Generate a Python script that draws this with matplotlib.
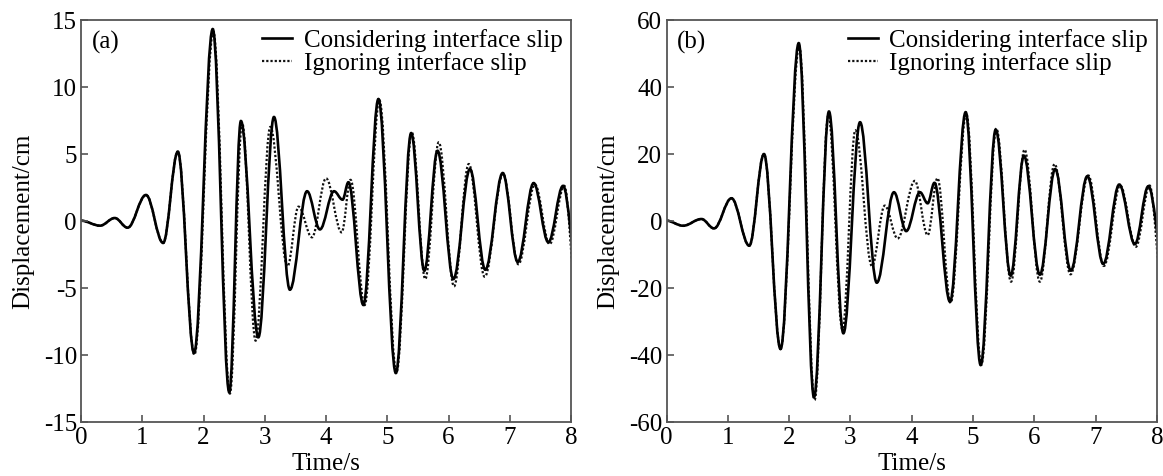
import matplotlib
matplotlib.use("Agg")
import matplotlib.pyplot as plt
from matplotlib.path import Path
from matplotlib.patches import PathPatch
from matplotlib.lines import Line2D

plt.rcParams['font.family'] = ['Liberation Serif', 'DejaVu Serif']
plt.rcParams['axes.unicode_minus'] = False

# ---- data: extrema (time s, displacement cm) ----
a_solid_t = [0, 0.31, 0.55, 0.76, 1.06, 1.34, 1.58, 1.845, 2.15, 2.42, 2.61, 2.895, 3.15, 3.41,
             3.69, 3.90, 4.13, 4.27, 4.365, 4.61, 4.855, 5.14, 5.39, 5.605, 5.82, 6.08, 6.35,
             6.6, 6.885, 7.13, 7.39, 7.63, 7.87, 8.1]
a_solid_v = [0, -0.37, 0.2, -0.52, 1.92, -1.66, 5.15, -9.87, 14.3, -12.8, 7.44, -8.7, 7.74, -5.15,
             2.2, -0.65, 2.2, 1.57, 2.87, -6.29, 9.08, -11.37, 6.54, -3.73, 5.22, -4.35, 3.86,
             -3.66, 3.56, -3.08, 2.81, -1.61, 2.6, -3.5]

a_dot_t = [0, 0.31, 0.55, 0.76, 1.06, 1.34, 1.58, 1.85, 2.16, 2.43, 2.63, 2.85, 3.09, 3.37,
           3.55, 3.77, 4.0, 4.255, 4.4, 4.63, 4.87, 5.15, 5.40, 5.62, 5.84, 6.09, 6.33,
           6.59, 6.89, 7.14, 7.41, 7.65, 7.89, 8.08]
a_dot_v = [0, -0.37, 0.2, -0.52, 1.92, -1.66, 5.15, -10.0, 14.1, -12.9, 7.3, -8.95, 7.0, -3.4,
           1.05, -1.24, 3.16, -0.87, 3.05, -6.3, 9.0, -11.3, 6.6, -4.35, 5.85, -4.9, 4.23,
           -4.18, 3.5, -3.25, 2.7, -1.75, 2.6, -5.0]

b_solid_t = [0, 0.27, 0.57, 0.775, 1.06, 1.35, 1.59, 1.86, 2.157, 2.406, 2.65, 2.885, 3.157, 3.43,
             3.71, 3.91, 4.135, 4.26, 4.37, 4.625, 4.88, 5.125, 5.37, 5.615, 5.83, 6.09, 6.34,
             6.595, 6.865, 7.125, 7.385, 7.64, 7.86, 8.1]
b_solid_v = [0, -1.5, 0.5, -2.3, 6.7, -7.46, 19.9, -38.3, 53.0, -52.7, 32.6, -33.6, 29.4, -18.5,
             8.5, -3.1, 8.5, 5.2, 11.3, -24.2, 32.4, -43.1, 27.2, -16.4, 19.4, -16.1, 15.4,
             -14.9, 13.3, -12.9, 10.8, -7.0, 10.3, -11.0]

b_dot_t = [0, 0.27, 0.57, 0.775, 1.06, 1.35, 1.59, 1.86, 2.165, 2.415, 2.64, 2.87, 3.08, 3.35,
           3.56, 3.77, 4.05, 4.26, 4.42, 4.635, 4.89, 5.135, 5.38, 5.62, 5.84, 6.09, 6.33,
           6.59, 6.88, 7.135, 7.40, 7.655, 7.88, 8.08]
b_dot_v = [0, -1.5, 0.5, -2.3, 6.7, -7.46, 19.9, -38.3, 52.0, -53.5, 31.5, -32.5, 27.0, -13.5,
           4.5, -5.3, 11.9, -4.3, 12.7, -24.5, 32.0, -43.0, 27.5, -18.2, 21.2, -18.2, 16.9,
           -16.0, 13.5, -13.5, 10.5, -7.8, 10.5, -18.0]

x_ticks = [0, 1, 2, 3, 4, 5, 6, 7, 8]
a_yticks = [-15, -10, -5, 0, 5, 10, 15]
b_yticks = [-60, -40, -20, 0, 20, 40, 60]
panel_labels = ['(a)', '(b)']
legend_labels = ['Considering interface slip', 'Ignoring interface slip']
xlabel = 'Time/s'
ylabel = 'Displacement/cm'


def smooth_path(ts, vs, a=0.364):
    """Cubic Bezier path through the extrema with horizontal tangents."""
    verts = [(ts[0], vs[0])]
    codes = [Path.MOVETO]
    for i in range(len(ts) - 1):
        dt = ts[i + 1] - ts[i]
        verts += [(ts[i] + a * dt, vs[i]), (ts[i + 1] - a * dt, vs[i + 1]), (ts[i + 1], vs[i + 1])]
        codes += [Path.CURVE4] * 3
    return Path(verts, codes)


fig = plt.figure(figsize=(11.63, 4.77), dpi=100)
axA = fig.add_axes([0.0697, 0.1138, 0.4213, 0.8428])
axB = fig.add_axes([0.5731, 0.1138, 0.4217, 0.8428])

spine_col = '#555555'
FS = 18
for ax, (st, sv, dtt, dv), yt, lab in [
        (axA, (a_solid_t, a_solid_v, a_dot_t, a_dot_v), a_yticks, panel_labels[0]),
        (axB, (b_solid_t, b_solid_v, b_dot_t, b_dot_v), b_yticks, panel_labels[1])]:
    ax.add_patch(PathPatch(smooth_path(dtt, dv), fill=False, edgecolor='#111111',
                           lw=1.6, linestyle=(0, (1, 0.9))))
    ax.add_patch(PathPatch(smooth_path(st, sv), fill=False, edgecolor='black', lw=1.9))
    ax.set_xlim(x_ticks[0], x_ticks[-1])
    ax.set_ylim(yt[0], yt[-1])
    ax.set_xticks(x_ticks)
    ax.set_yticks(yt)
    ax.tick_params(direction='in', length=5, width=1.2, color=spine_col,
                   labelsize=FS, pad=3, top=False, right=False)
    for s in ax.spines.values():
        s.set_color(spine_col)
        s.set_linewidth(1.3)
    ax.set_xlabel(xlabel, fontsize=FS, labelpad=3)
    ax.set_ylabel(ylabel, fontsize=FS, labelpad=7)
    ax.text(0.022, 0.975, lab, transform=ax.transAxes, fontsize=FS, ha='left', va='top')
    handles = [Line2D([], [], color='black', lw=1.9),
               Line2D([], [], color='#111111', lw=1.6, linestyle=(0, (1, 0.9)))]
    ax.legend(handles, legend_labels, loc='upper right', bbox_to_anchor=(1.0, 1.0),
              frameon=False, fontsize=FS, handlelength=1.2, handletextpad=0.45,
              labelspacing=0.0, borderaxespad=0.15, borderpad=0.2)

fig.savefig('out.png', dpi=100)
